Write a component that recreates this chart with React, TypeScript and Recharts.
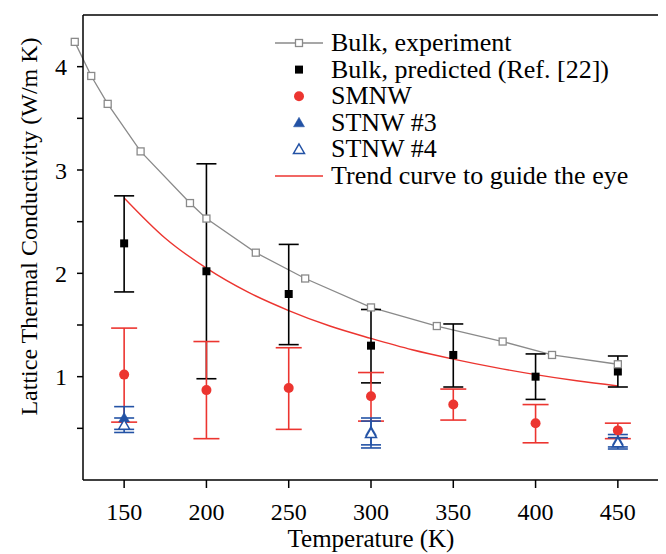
import { ComposedChart, Line, Scatter, ErrorBar, XAxis, YAxis, Legend } from 'recharts'

// bulk, experiment (gray line with open squares)
const expT = [120, 130, 140, 160, 190, 200, 230, 260, 300, 340, 380, 410, 450]
const expK = [4.24, 3.91, 3.64, 3.18, 2.68, 2.53, 2.2, 1.95, 1.67, 1.49, 1.34, 1.21, 1.12]

// bulk, predicted (Ref. [22])
const predT = [150, 200, 250, 300, 350, 400, 450]
const predK = [2.29, 2.02, 1.8, 1.3, 1.21, 1.0, 1.05]
const predLo = [1.82, 0.98, 1.31, 0.94, 0.9, 0.78, 0.9]
const predHi = [2.75, 3.06, 2.28, 1.65, 1.51, 1.22, 1.2]

// SMNW
const smT = [150, 200, 250, 300, 350, 400, 450]
const smK = [1.02, 0.87, 0.89, 0.81, 0.73, 0.55, 0.48]
const smLo = [0.56, 0.4, 0.49, 0.57, 0.58, 0.36, 0.4]
const smHi = [1.47, 1.34, 1.28, 1.04, 0.88, 0.73, 0.55]

// STNW #3 and #4
const stT = [150, 300, 450]
const st3K = [0.6, 0.47, 0.38]
const st3Lo = [0.49, 0.34, 0.32]
const st3Hi = [0.71, 0.6, 0.44]
const st4K = [0.53, 0.45, 0.36]
const st4Lo = [0.46, 0.31, 0.3]
const st4Hi = [0.6, 0.57, 0.41]

// trend curve
const trendT = [150, 175, 200, 225, 250, 275, 300, 325, 350, 375, 400, 425, 450]
const trendK = [2.73, 2.34, 2.05, 1.82, 1.64, 1.49, 1.37, 1.26, 1.17, 1.09, 1.02, 0.96, 0.91]

const xTicks = [150, 200, 250, 300, 350, 400, 450]
const yTicks = [0.5, 1, 1.5, 2, 2.5, 3, 3.5, 4]

const legendNames = [
  'Bulk, experiment',
  'Bulk, predicted (Ref. [22])',
  'SMNW',
  'STNW #3',
  'STNW #4',
  'Trend curve to guide the eye'
]

const FONT = 'Liberation Serif, DejaVu Serif, serif'
const GRAY = '#8a8a8a'
const RED = '#ec3530'
const BLUE = '#2352a5'

const points = (T: number[], K: number[]) => T.map((t, i) => ({ T: t, K: K[i] }))
const withErr = (T: number[], K: number[], lo: number[], hi: number[]) =>
  T.map((t, i) => ({ T: t, K: K[i], err: [K[i] - lo[i], hi[i] - K[i]] }))

const expData = points(expT, expK)
const trendData = points(trendT, trendK)
const predData = withErr(predT, predK, predLo, predHi)
const smData = withErr(smT, smK, smLo, smHi)
const st3Data = withErr(stT, st3K, st3Lo, st3Hi)
const st4Data = withErr(stT, st4K, st4Lo, st4Hi)

const openSquare = (cx: number, cy: number, key?: any) => (
  <rect key={key} x={cx - 3.5} y={cy - 3.5} width={7} height={7} fill="#fff" stroke={GRAY} strokeWidth={1.3} />
)
const blackSquare = (cx: number, cy: number) => (
  <rect x={cx - 4} y={cy - 4} width={8} height={8} fill="#000" />
)
const redCircle = (cx: number, cy: number) => <circle cx={cx} cy={cy} r={5} fill={RED} />
const triangle = (cx: number, cy: number, filled: boolean) => (
  <polygon
    points={`${cx},${cy - 5.5} ${cx - 5.5},${cy + 4} ${cx + 5.5},${cy + 4}`}
    fill={filled ? BLUE : '#fff'}
    stroke={BLUE}
    strokeWidth={filled ? 0.5 : 1.5}
  />
)

function LegendBox() {
  return (
    <svg width={400} height={175}>
      {legendNames.map((name, i) => {
        const y = 15 + i * 26.6
        return (
          <g key={name}>
            {i === 0 && <line x1={7} x2={55} y1={y} y2={y} stroke={GRAY} strokeWidth={1.3} />}
            {i === 0 && openSquare(31, y)}
            {i === 1 && blackSquare(31, y)}
            {i === 2 && redCircle(31, y)}
            {i === 3 && triangle(31, y, true)}
            {i === 4 && triangle(31, y, false)}
            {i === 5 && <line x1={7} x2={55} y1={y} y2={y} stroke={RED} strokeWidth={1.3} />}
            <text x={63} y={y + 8} fontSize={26} fontFamily={FONT} fill="#000">
              {name}
            </text>
          </g>
        )
      })}
    </svg>
  )
}

const tickStyle = { fill: '#000', fontSize: 24, fontFamily: FONT }
const axisStroke = { stroke: '#000', strokeWidth: 1.5 }

// the first experimental point (120 K) sits left of the frame, as in the source figure
const unclip = `
.recharts-line, .recharts-line *,
.recharts-line-dots, .recharts-line-dots *,
g:has(> .recharts-line-dots) { clip-path: none !important; }
`

export default function App() {
  return (
    <div style={{ width: 658, height: 546, fontFamily: FONT }}>
      <style>{unclip}</style>
      <ComposedChart width={658} height={546} margin={{ top: 7, right: 7, left: 0, bottom: 0 }}>
        <XAxis
          type="number"
          dataKey="T"
          domain={[125, 475]}
          allowDataOverflow
          ticks={xTicks}
          height={74}
          tickSize={8}
          tickMargin={15}
          tick={tickStyle}
          axisLine={axisStroke}
          tickLine={axisStroke}
          label={{
            content: (p: any) => (
              <text
                x={p.viewBox.x + p.viewBox.width / 2}
                y={p.viewBox.y + 67}
                textAnchor="middle"
                fontSize={25}
                fontFamily={FONT}
                fill="#000"
              >
                Temperature (K)
              </text>
            )
          }}
        />
        <XAxis
          xAxisId="top"
          orientation="top"
          type="number"
          domain={[125, 475]}
          allowDataOverflow
          ticks={xTicks}
          mirror
          tickSize={5}
          tickFormatter={() => ''}
          axisLine={axisStroke}
          tickLine={axisStroke}
        />
        <YAxis
          type="number"
          dataKey="K"
          domain={[0, 4.5]}
          ticks={yTicks}
          width={75}
          tickSize={6}
          tickMargin={10}
          tick={tickStyle}
          tickFormatter={(v: number) => (Number.isInteger(v) ? String(v) : '')}
          axisLine={axisStroke}
          tickLine={axisStroke}
          label={{
            content: (p: any) => (
              <text
                transform={`translate(${p.viewBox.x + 29}, ${p.viewBox.y + p.viewBox.height / 2 - 21}) rotate(-90)`}
                textAnchor="middle"
                fontSize={24}
                fontFamily={FONT}
                fill="#000"
              >
                Lattice Thermal Conductivity (W/m K)
              </text>
            )
          }}
        />
        <YAxis
          yAxisId="right"
          orientation="right"
          type="number"
          domain={[0, 4.5]}
          ticks={yTicks}
          mirror
          tickSize={6}
          tickFormatter={() => ''}
          axisLine={axisStroke}
          tickLine={axisStroke}
        />

        <Line
          data={expData}
          dataKey="K"
          stroke={GRAY}
          strokeWidth={1.3}
          dot={(p: any) => openSquare(p.cx, p.cy, p.index)}
          activeDot={false}
          isAnimationActive={false}
        />
        <Line
          data={trendData}
          dataKey="K"
          type="monotone"
          stroke={RED}
          strokeWidth={1.4}
          dot={false}
          activeDot={false}
          isAnimationActive={false}
        />
        <Scatter
          data={predData}
          dataKey="K"
          shape={(p: any) => blackSquare(p.cx, p.cy)}
          isAnimationActive={false}
        >
          <ErrorBar dataKey="err" direction="y" width={10} stroke="#000" strokeWidth={1.6} isAnimationActive={false} />
        </Scatter>
        <Scatter
          data={smData}
          dataKey="K"
          shape={(p: any) => redCircle(p.cx, p.cy)}
          isAnimationActive={false}
        >
          <ErrorBar dataKey="err" direction="y" width={13} stroke={RED} strokeWidth={1.6} isAnimationActive={false} />
        </Scatter>
        <Scatter
          data={st3Data}
          dataKey="K"
          shape={(p: any) => triangle(p.cx, p.cy, true)}
          isAnimationActive={false}
        >
          <ErrorBar dataKey="err" direction="y" width={10} stroke={BLUE} strokeWidth={1.6} isAnimationActive={false} />
        </Scatter>
        <Scatter
          data={st4Data}
          dataKey="K"
          shape={(p: any) => triangle(p.cx, p.cy, false)}
          isAnimationActive={false}
        >
          <ErrorBar dataKey="err" direction="y" width={10} stroke={BLUE} strokeWidth={1.6} isAnimationActive={false} />
        </Scatter>

        <Legend
          layout="vertical"
          align="center"
          verticalAlign="middle"
          wrapperStyle={{ left: 260, top: 20, width: 400, height: 175 }}
          content={() => <LegendBox />}
        />
      </ComposedChart>
    </div>
  )
}
